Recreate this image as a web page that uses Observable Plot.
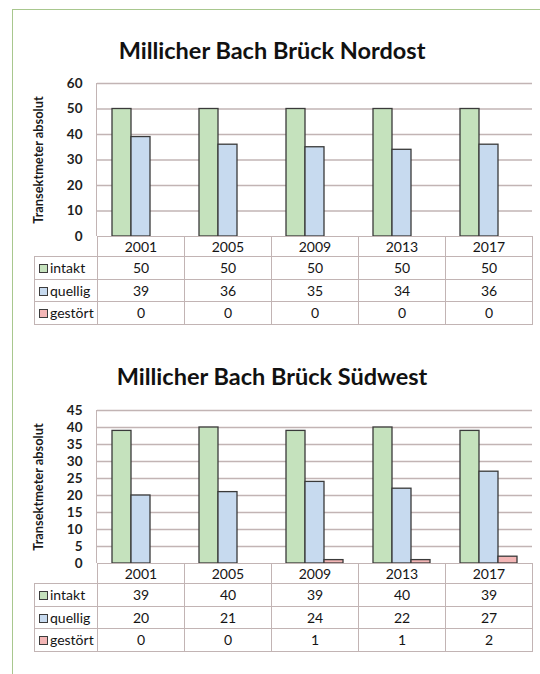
<!DOCTYPE html>
<html>
<head>
<meta charset="utf-8">
<script src="https://cdn.jsdelivr.net/npm/d3@7"></script>
<script src="https://cdn.jsdelivr.net/npm/@observablehq/plot@0.6"></script>
<style>
  html, body { margin: 0; padding: 0; background: #fff; }
  #page { position: relative; width: 540px; height: 674px; overflow: hidden; background: #fff; font-family: Lato, "Open Sans", sans-serif; }
  .frame { position: absolute; left: 12px; top: 9px; width: 600px; height: 700px; border-top: 1.5px solid #a8c78e; border-left: 1.5px solid #a8c78e; }
  .title { position: absolute; left: 12px; width: 520px; text-align: center; font-weight: bold; font-size: 23.5px; color: #111; white-space: nowrap; }
  .ylabel { position: absolute; width: 200px; text-align: center; font-weight: bold; font-size: 12.8px; color: #1a1a1a; transform: rotate(-90deg); white-space: nowrap; }
  .chart { position: absolute; left: 0; }
  .axisline { position: absolute; left: 96px; width: 1.2px; background: #c2b4b4; }
  table.dt { position: absolute; left: 34px; border-collapse: collapse; table-layout: fixed; font-size: 14px; color: #141414; }
  table.dt td { border: 1.2px solid #c2b4b4; text-align: center; padding: 0; vertical-align: middle; }
  table.dt td.blank { border: none; }
  table.dt td.lab { text-align: left; padding-left: 4px; white-space: nowrap; }
  table.dt tr.hdr td { height: 19.5px; }
  table.dt tr.row td { height: 21.5px; }
  .sw { display: inline-block; width: 7px; height: 7px; border: 1px solid #3c3c3c; margin-right: 2px; vertical-align: 0px; }
</style>
</head>
<body>
<div id="page">
  <div class="frame"></div>
</div>
<script>
// ---- data ----
const years = ["2001", "2005", "2009", "2013", "2017"];
const series = ["intakt", "quellig", "gestört"];
const seriesColors = ["#c5e2bd", "#c7daef", "#f3b6b6"];

const title1 = "Millicher Bach Brück Nordost";
const nordostIntakt = [50, 50, 50, 50, 50];
const nordostQuellig = [39, 36, 35, 34, 36];
const nordostGestoert = [0, 0, 0, 0, 0];
const nordostTicks = [0, 10, 20, 30, 40, 50, 60];

const title2 = "Millicher Bach Brück Südwest";
const suedwestIntakt = [39, 40, 39, 40, 39];
const suedwestQuellig = [20, 21, 24, 22, 27];
const suedwestGestoert = [0, 0, 1, 1, 2];
const suedwestTicks = [0, 5, 10, 15, 20, 25, 30, 35, 40, 45];

const yLabel = "Transektmeter absolut";
const gridColor = "#c2b4b4";

function buildRows(a, b, c) {
  const vals = [a, b, c];
  return years.flatMap((yr, i) => series.map((s, j) => ({year: yr, series: s, value: vals[j][i]})));
}

function addChart(page, opts) {
  const {title, rows, ticks, table, titleTop, plotTop} = opts;
  const plotH = 153;
  const t = document.createElement("div");
  t.className = "title";
  t.style.top = titleTop + "px";
  t.textContent = title;
  page.appendChild(t);

  const chart = Plot.plot({
    width: 540,
    height: 10 + plotH + 9,
    marginTop: 10,
    marginBottom: 9,
    marginLeft: 97,
    marginRight: 8,
    style: {background: "transparent", fontFamily: "Lato, sans-serif", fontSize: "13.5px", fontWeight: "bold", color: "#1e1e1e"},
    facet: {data: rows, x: "year"},
    fx: {domain: years, padding: 0, axis: null, label: null},
    x: {domain: series, paddingInner: 0, paddingOuter: 0.73, axis: null, label: null},
    y: {domain: [0, d3.max(ticks)], ticks: ticks, tickSize: 0, tickPadding: 15, label: null},
    color: {domain: series, range: seriesColors},
    marks: [
      Plot.ruleY(ticks.filter(v => v > 0), {stroke: gridColor, strokeWidth: 1.3}),
      Plot.barY(rows, {x: "series", y: "value", fill: "series", stroke: "#3a3a3a", strokeWidth: 1.3, filter: d => d.value > 0})
    ]
  });
  chart.classList.add("chart");
  chart.style.top = (plotTop - 10) + "px";
  page.appendChild(chart);

  const line = document.createElement("div");
  line.className = "axisline";
  line.style.top = plotTop + "px";
  line.style.height = plotH + "px";
  page.appendChild(line);

  const yl = document.createElement("div");
  yl.className = "ylabel";
  yl.textContent = yLabel;
  yl.style.left = (38 - 100) + "px";
  yl.style.top = (plotTop + plotH / 2 - 8) + "px";
  page.appendChild(yl);

  const tbl = document.createElement("table");
  tbl.className = "dt";
  tbl.style.top = (plotTop + plotH - 0.5) + "px";
  const cg = document.createElement("colgroup");
  const c0 = document.createElement("col"); c0.style.width = "63px"; cg.appendChild(c0);
  years.forEach(() => { const c = document.createElement("col"); c.style.width = "87px"; cg.appendChild(c); });
  tbl.appendChild(cg);
  const hdr = document.createElement("tr");
  hdr.className = "hdr";
  const blank = document.createElement("td"); blank.className = "blank"; hdr.appendChild(blank);
  years.forEach(yr => { const td = document.createElement("td"); td.textContent = yr; hdr.appendChild(td); });
  tbl.appendChild(hdr);
  series.forEach((s, j) => {
    const tr = document.createElement("tr");
    tr.className = "row";
    const lab = document.createElement("td");
    lab.className = "lab";
    const sw = document.createElement("span");
    sw.className = "sw";
    sw.style.background = seriesColors[j];
    lab.appendChild(sw);
    lab.appendChild(document.createTextNode(s));
    tr.appendChild(lab);
    table[j].forEach(v => { const td = document.createElement("td"); td.textContent = v; tr.appendChild(td); });
    tbl.appendChild(tr);
  });
  page.appendChild(tbl);
}

const page = document.getElementById("page");
addChart(page, {
  title: title1,
  rows: buildRows(nordostIntakt, nordostQuellig, nordostGestoert),
  ticks: nordostTicks,
  table: [nordostIntakt, nordostQuellig, nordostGestoert],
  titleTop: 36,
  plotTop: 83
});
addChart(page, {
  title: title2,
  rows: buildRows(suedwestIntakt, suedwestQuellig, suedwestGestoert),
  ticks: suedwestTicks,
  table: [suedwestIntakt, suedwestQuellig, suedwestGestoert],
  titleTop: 362,
  plotTop: 410
});
</script>
</body>
</html>
